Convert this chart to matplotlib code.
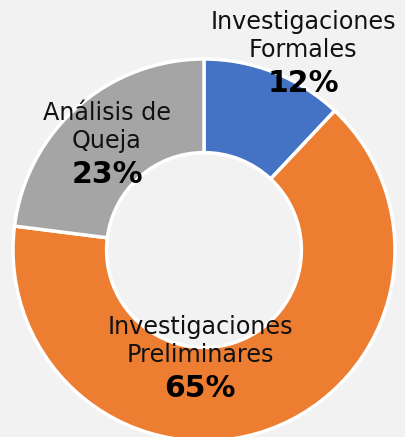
import matplotlib
matplotlib.use("Agg")
import matplotlib.pyplot as plt

categories = ["Investigaciones\nFormales", "Investigaciones\nPreliminares", "Análisis de\nQueja"]
values = [12, 65, 23]
colors = ["#4472C4", "#ED7D31", "#A5A5A5"]

# label anchor positions (data coords, radius = 1)
name_pos = [(0.52, 1.12), (-0.02, -0.476), (-0.508, 0.644)]
pct_pos = [(0.52, 0.874), (-0.02, -0.723), (-0.508, 0.393)]

W, H = 405, 437
fig = plt.figure(figsize=(W / 100, H / 100), dpi=100)
fig.patch.set_facecolor("#f2f2f2")

cx, cy, r = 204, 437 - 250, 191
ax = fig.add_axes([(cx - r) / W, (cy - r) / H, 2 * r / W, 2 * r / H])
ax.set_facecolor("none")

wedges, _ = ax.pie(values, colors=colors, startangle=90, counterclock=False,
                   radius=1, wedgeprops=dict(width=0.49, edgecolor="white", linewidth=2.5))
for w in wedges:
    w.set_clip_on(False)
ax.set_xlim(-1, 1)
ax.set_ylim(-1, 1)
ax.axis("off")

for name, v, (nx, ny), (px, py) in zip(categories, values, name_pos, pct_pos):
    ax.text(nx, ny, name, ha="center", va="center", fontsize=17.2,
            color="#111111", linespacing=1.2, family="DejaVu Sans")
    ax.text(px, py, f"{v}%", ha="center", va="center", fontsize=21.5,
            fontweight="bold", color="black", family="DejaVu Sans")

fig.savefig("out.png", dpi=100, facecolor=fig.get_facecolor())
